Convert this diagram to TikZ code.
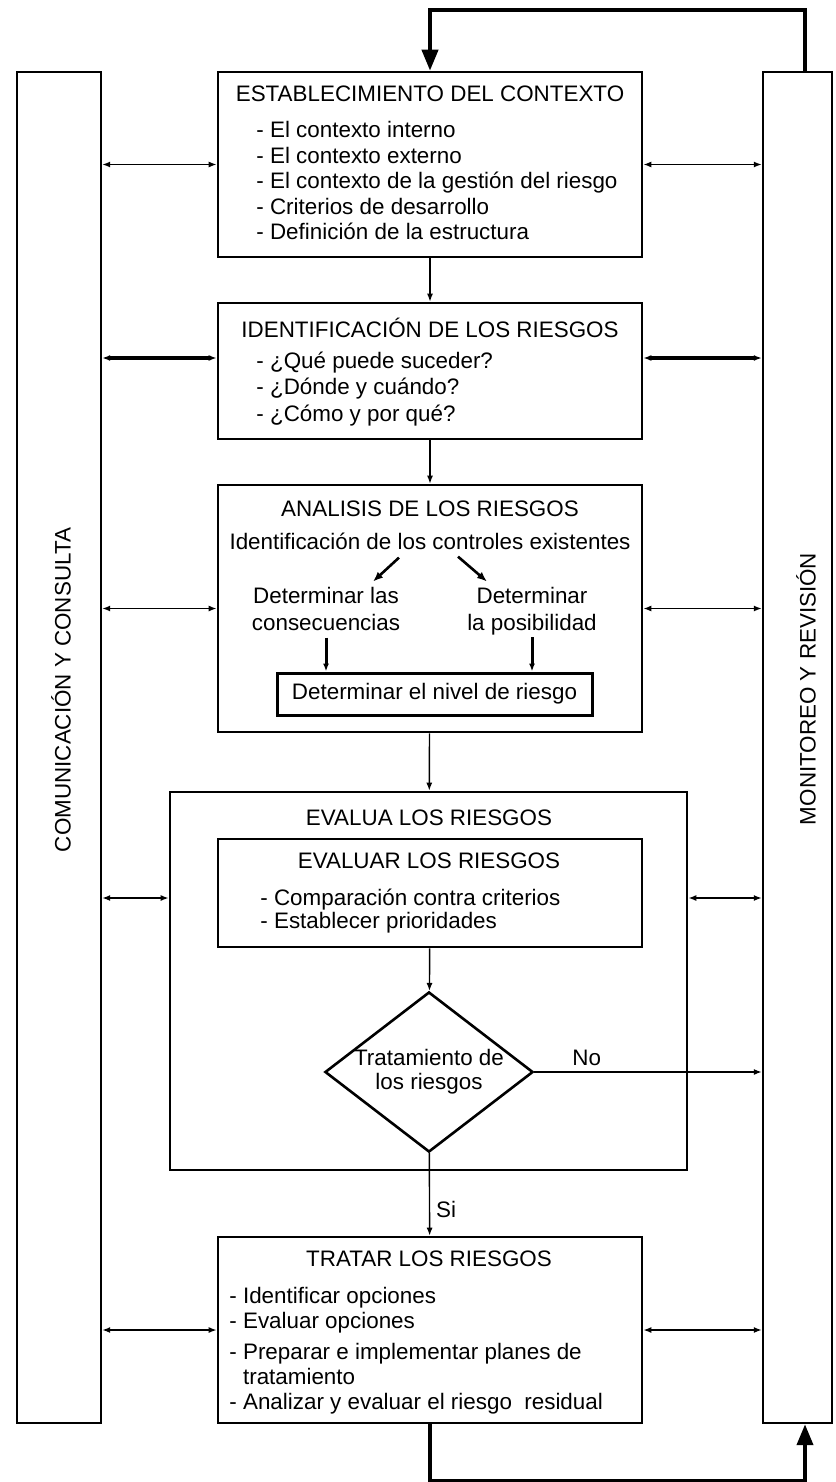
\documentclass[tikz,border=0pt]{standalone}
\usepackage{fontspec}
\setmainfont{Liberation Sans}
\usetikzlibrary{arrows.meta, positioning, shapes.geometric, calc}
\begin{document}
\begin{tikzpicture}[x=0.5pt, y=-0.5pt,
  box/.style={draw, line width=1.3pt, inner sep=0pt, minimum width=212pt},
  col/.style={draw, line width=1.2pt, inner sep=0pt, minimum height=675.5pt},
  txt/.style={inner sep=0pt, font=\fontsize{11.2}{12.75}\selectfont, align=left},
  ttl/.style={txt, anchor=base},
  itm/.style={txt, anchor=base west},
  lbl/.style={inner sep=3pt, font=\fontsize{11.2}{12}\selectfont},
  vl/.style={inner sep=0pt, font=\fontsize{11.2}{12}\selectfont, rotate=90},
  arr/.style={-{Latex[length=4pt, width=3pt]}, line width=0.7pt},
  darr/.style={{Latex[length=4pt, width=3pt]}-{Latex[length=4pt, width=3pt]}, line width=0.75pt},
  thk/.style={-{Latex[length=5pt, width=4pt]}, line width=1.3pt},
  fb/.style={-{Triangle[length=10.5pt, width=8pt]}, line width=2pt}]
\useasboundingbox (0,0) rectangle (835,1482);
\node[col, minimum width=42pt] (lc) at (59, 747.5) {};
\node[col, minimum width=34.5pt] (rc) at (797.5, 747.5) {};
\node[vl] (lcl) at (61, 690) {COMUNICACIÓN Y CONSULTA};
\node[vl] (rcl) at (806, 689) {MONITOREO Y REVISIÓN};
\node[box, minimum height=92.5pt] (b1) at (430, 164.5) {};
\node[ttl] (t1) at (430, 102) {ESTABLECIMIENTO DEL CONTEXTO};
\node[itm] (i1) at (256, 240) {- El contexto interno\\- El contexto externo\\- El contexto de la gestión del riesgo\\- Criterios de desarrollo\\- Definición de la estructura};
\node[box, minimum height=68pt] (b2) at (430, 371) {};
\node[ttl] (t2) at (430, 337) {IDENTIFICACIÓN DE LOS RIESGOS};
\node[itm, font=\fontsize{11.2}{13.25}\selectfont] (i2) at (256, 421) {- ¿Qué puede suceder?\\- ¿Dónde y cuándo?\\- ¿Cómo y por qué?};
\node[box, minimum height=123.5pt] (b3) at (430, 608.5) {};
\node[ttl] (t3) at (430, 516) {ANALISIS DE LOS RIESGOS};
\node[ttl] (ctrl) at (430, 549) {Identificación de los controles existentes};
\node[ttl, align=center, font=\fontsize{11.2}{13.5}\selectfont] (cons) at (326, 630) {Determinar las\\consecuencias};
\node[ttl, align=center, font=\fontsize{11.2}{13.5}\selectfont] (posb) at (532, 630) {Determinar\\la posibilidad};
\node[draw, line width=1.5pt, inner sep=0pt, minimum width=157.5pt, minimum height=21pt, font=\fontsize{11.2}{12}\selectfont] (niv) at (434.5, 694) {Determinar el nivel de riesgo};
\node[box, minimum width=258.5pt, minimum height=189pt] (b4) at (428.5, 981) {};
\node[ttl] (t4) at (429, 825) {EVALUA LOS RIESGOS};
\node[box, minimum height=54pt] (b4i) at (430, 893) {};
\node[ttl] (t4i) at (429, 868) {EVALUAR LOS RIESGOS};
\node[itm, font=\fontsize{11.2}{11.5}\selectfont] (i4) at (260, 928) {- Comparación contra criterios\\- Establecer prioridades};
\node[diamond, draw, line width=1.3pt, inner sep=0pt, aspect=1.3, minimum width=103.5pt, minimum height=80pt, align=center, font=\fontsize{11.2}{12}\selectfont] (dia) at (429, 1072) {Tratamiento de\\los riesgos};
\node[box, minimum height=93pt] (b5) at (430, 1330) {};
\node[ttl] (t5) at (429, 1266) {TRATAR LOS RIESGOS};
\node[itm, font=\fontsize{11.2}{12.5}\selectfont] (i5) at (229, 1409) {- Identificar opciones\\- Evaluar opciones\\[3pt]- Preparar e implementar planes de\\\phantom{- }tratamiento\\- Analizar y evaluar el riesgo~ residual};
\draw[arr] (b1) -- (b2); \draw[arr] (b2) -- (b3); \draw[arr] (b3) -- (b4); \draw[arr] (b4i) -- (dia);
\draw[arr] (dia) -- node[lbl, right, pos=0.68] (si) {Si} (b5);
\draw[arr] (dia) -- node[lbl, above, pos=0.23] (no) {No} (rc.west |- dia.east);
\draw[thk] ([xshift=-15.5pt, yshift=-4pt]ctrl.south) -- ([xshift=23.5pt, yshift=2.4pt]cons.north);
\draw[thk] ([xshift=14pt, yshift=-3.5pt]ctrl.south) -- ([xshift=-22.5pt, yshift=2.4pt]posb.north);
\draw[arr, line width=1.5pt] ([yshift=-3.5pt]cons.south) -- (cons.south |- niv.north); \draw[arr, line width=1.5pt] ([yshift=-1.2pt]posb.south) -- (posb.south |- niv.north);
\coordinate (r2l) at ([yshift=6.5pt]b2.west); \coordinate (r2r) at ([yshift=6.5pt]b2.east);
\coordinate (r4l) at (b4.west |- 0,898); \coordinate (r4r) at (b4.east |- 0,898);
\draw[darr] (lc.east |- b1.west) -- (b1.west); \draw[darr] (b1.east) -- (rc.west |- b1.east);
\draw[darr, line width=1.6pt] (lc.east |- r2l) -- (r2l); \draw[darr, line width=1.6pt] (r2r) -- (rc.west |- r2r);
\draw[darr] (lc.east |- b3.west) -- (b3.west); \draw[darr] (b3.east) -- (rc.west |- b3.east);
\draw[darr] (lc.east |- r4l) -- (r4l); \draw[darr] (r4r) -- (rc.west |- r4r);
\draw[darr] (lc.east |- b5.west) -- (b5.west); \draw[darr] (b5.east) -- (rc.west |- b5.east);
\coordinate (fbt) at ([xshift=3.75pt]rc.north); \coordinate (fbb) at ([xshift=3.75pt]rc.south);
\draw[fb] (fbt) -- ++(0,-61) -| (b1.north);
\draw[fb] (b5.south) -- ++(0,57) -| (fbb);
\end{tikzpicture}
\end{document}
